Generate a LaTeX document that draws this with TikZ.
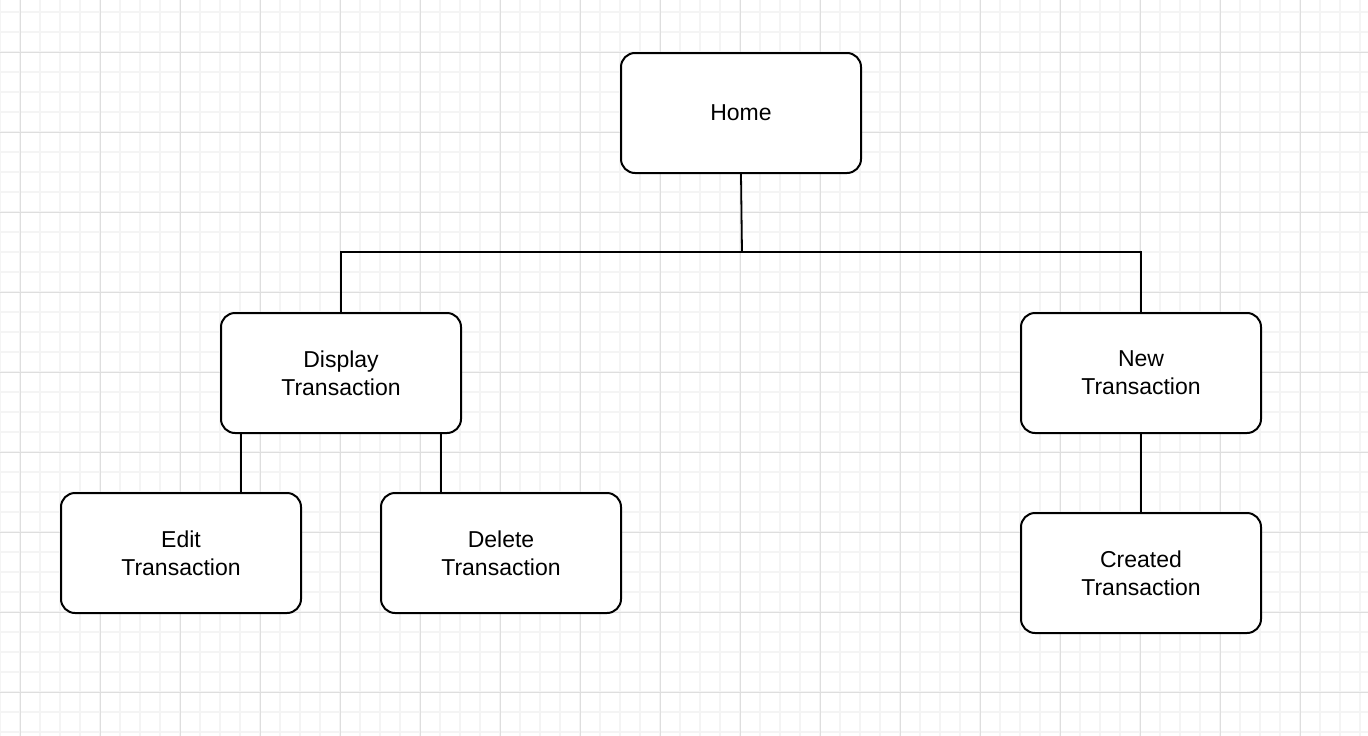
\documentclass[tikz,border=0pt]{standalone}
\usepackage{fontspec}
\setmainfont{Liberation Sans}
\usepackage{tikz}
\usetikzlibrary{positioning}
\definecolor{gridminor}{RGB}{244,244,244}
\definecolor{gridmajor}{RGB}{222,222,222}

\begin{document}
\begin{tikzpicture}[x=1pt, y=-1pt, node distance=260pt,
    page/.style={draw, line width=2pt, rounded corners=14pt, fill=white,
      minimum width=240pt, minimum height=120pt, inner sep=0pt, align=center,
      font=\fontsize{23}{28}\selectfont},
    link/.style={line width=1.8pt}]
        \useasboundingbox (0,0) rectangle (1368,736);
        \fill[white] (0,0) rectangle (1368,736);
        % background grid
        \foreach \x in {0,20,...,1360} \draw[gridminor, line width=1.5pt] (\x,0) -- (\x,736);
        \foreach \y in {12,32,...,732} \draw[gridminor, line width=1.5pt] (0,\y) -- (1368,\y);
        \foreach \x in {20,100,...,1340} \draw[gridmajor, line width=1pt] (\x,0) -- (\x,736);
        \foreach \y in {52,132,...,692} \draw[gridmajor, line width=1pt] (0,\y) -- (1368,\y);

        \node[page] (H) at (741,113) {Home};
        \node[page] (D) [below of=H, xshift=-400pt] {Display\\Transaction};
        \node[page] (N) [below of=H, xshift=400pt] {New\\Transaction};
        \node[page] (E) [below of=D, xshift=-160pt, node distance=180pt] {Edit\\Transaction};
        \node[page] (X) [below of=D, xshift=160pt, node distance=180pt] {Delete\\Transaction};
        \node[page] (C) [below of=N, node distance=200pt] {Created\\Transaction};

        \coordinate (bar) at (742,252);
        \draw[link] (H.south) -- (bar);
        \draw[link] (D.north) |- (bar) -| (N.north);
        \draw[link] ([xshift=-100pt]D.south) -- ([xshift=-100pt]D.south |- E.north);
        \draw[link] ([xshift=100pt]D.south) -- ([xshift=100pt]D.south |- X.north);
        \draw[link] (N.south) -- (C.north);
  \end{tikzpicture}
\end{document}
